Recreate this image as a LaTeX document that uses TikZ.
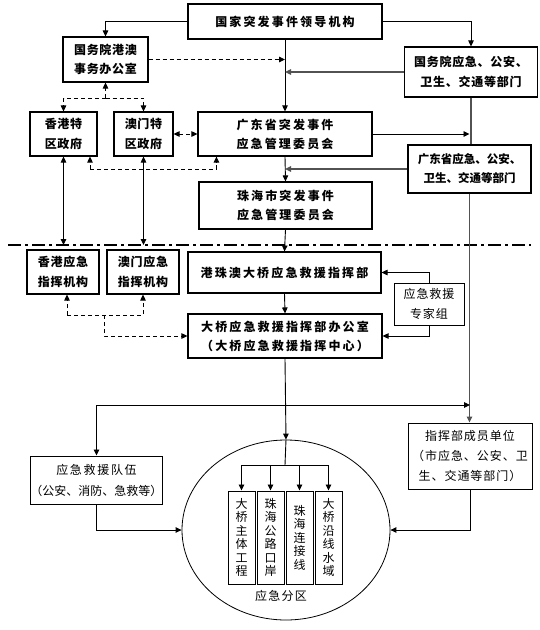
\documentclass[tikz,border=0pt]{standalone}
\usepackage{fontspec}
\setmainfont{Noto Sans CJK SC}
\usetikzlibrary{arrows.meta,shapes.geometric}
\tikzset{
  bx/.style={draw, line width=1.1pt, inner sep=0pt, align=center,
    font={\bfseries\fontsize{12}{19}\selectfont\addfontfeature{LetterSpace=18}}},
  bxn/.style={draw, line width=1.1pt, inner sep=0pt, align=center,
    font={\bfseries\fontsize{12}{19.5}\selectfont\addfontfeature{LetterSpace=6}}},
  rx/.style={draw, line width=1pt, inner sep=0pt, align=center,
    font={\fontsize{12}{20}\selectfont\addfontfeature{LetterSpace=8}}},
  vx/.style={draw, line width=1pt, inner sep=0pt, align=center,
    minimum width=27pt, minimum height=93pt,
    font={\fontsize{12}{13.5}\selectfont}},
  ln/.style={line width=0.9pt},
  gln/.style={line width=1.4pt, draw=black!68},
  arr/.style={-{Triangle[length=6pt,width=5.5pt]}},
  arrb/.style={{Triangle[length=6pt,width=5.5pt]}-{Triangle[length=6pt,width=5.5pt]}},
  dsh/.style={dash pattern=on 4pt off 3pt},
  dashdotline/.style={line width=1.6pt, dash pattern=on 13pt off 4pt on 3pt off 4pt},
}
\begin{document}
\begin{tikzpicture}[x=1pt,y=-1pt]
\useasboundingbox (0,0) rectangle (539,630);
% boxes
\node[bx, minimum width=194pt, minimum height=35pt] (top) at (285,21.5) {国家突发事件领导机构};
\node[bxn, minimum width=85pt, minimum height=45pt] (hmo) at (105.5,59.5) {国务院港澳\\事务办公室};
\node[bxn, minimum width=133pt, minimum height=50pt] (gwy) at (471,72) {国务院应急、公安、\\卫生、交通等部门};
\node[bxn, minimum width=67pt, minimum height=44pt] (hk) at (63.5,134) {香港特\\区政府};
\node[bxn, minimum width=59pt, minimum height=44pt] (mo) at (143.5,134) {澳门特\\区政府};
\node[bx, minimum width=174pt, minimum height=44pt] (gd) at (285,134) {广东省突发事件\\应急管理委员会};
\node[draw, line width=1.1pt, inner sep=0pt, align=center, minimum width=123pt, minimum height=48pt,
  font={\bfseries\fontsize{11.5}{19}\selectfont}] (gdd) at (469.5,169) {广东省应急、公安、\\卫生、交通等部门};
\node[bx, minimum width=173pt, minimum height=47pt] (zh) at (285.5,205.5) {珠海市突发事件\\应急管理委员会};
\node[bxn, minimum width=72pt, minimum height=44pt] (hke) at (63,272) {香港应急\\指挥机构};
\node[bxn, minimum width=72pt, minimum height=44pt] (moe) at (143,272) {澳门应急\\指挥机构};
\node[bx, minimum width=193pt, minimum height=41pt] (hq) at (284.5,272.5) {港珠澳大桥应急救援指挥部};
\node[bx, minimum width=194pt, minimum height=44pt] (off) at (285,336) {大桥应急救援指挥部办公室\\（大桥应急救援指挥中心）};
\node[rx, minimum width=70pt, minimum height=42pt] (exp) at (429,304) {应急救援\\专家组};
\node[draw, line width=1pt, inner sep=0pt, align=center, minimum width=129pt, minimum height=48pt,
  font={\fontsize{12}{21}\selectfont}] (team) at (96.5,480) {\addfontfeature{LetterSpace=14}应急救援队伍\\（公安、消防、急救等）};
\node[rx, minimum width=124pt, minimum height=66pt] (mem) at (470,456) {指挥部成员单位\\（市应急、公安、卫\\生、交通等部门）};
\node[draw, ellipse, line width=0.8pt, inner sep=0pt, minimum width=208pt, minimum height=180pt] (el) at (286,530) {};
\node[vx] (z1) at (241.5,537.5) {大\\桥\\主\\体\\工\\程};
\node[vx] (z2) at (270.5,537.5) {珠\\海\\公\\路\\口\\岸};
\node[vx] (z3) at (299.5,537.5) {珠\\海\\连\\接\\线};
\node[vx] (z4) at (328.5,537.5) {大\\桥\\沿\\线\\水\\域};
\node[font={\fontsize{12}{14}\selectfont\addfontfeature{LetterSpace=10}}] (lbl) at (281,596) {应急分区};
% coordinates
\coordinate (h1) at (105.5,98);
\coordinate (c1) at (90,169);
\coordinate (e1) at (67,315);
\coordinate (e2) at (104,315);
\coordinate (j) at (285,405);
\coordinate (s) at (285,465);
\coordinate (dl) at (8,245);
\coordinate (dr) at (531,245);
% dash-dot separator
\draw[dashdotline] (dl) -- (dr);
% top connectors
\draw[ln,arr] (top.west) -| (hmo.north);
\draw[ln,arr] (top.east) -| (gwy.north);
\draw[ln,arr] (top.south) -- (gd.north);
\draw[ln,dsh,arr] (hmo.east) -- (hmo.east -| top.south);
\draw[gln,arr] (gwy.west) -- (gwy.west -| top.south);
\draw[gln] (gwy.south) -- (gwy.south |- gdd.north);
\draw[ln,arr] (gd.east) -- (gd.east -| gdd.north);
\draw[gln,arr] (gdd.west) -- (gdd.west -| gd.south);
\draw[ln,arr] (gd.south) -- (zh.north);
\draw[ln,arr] (zh.south) -- (hq.north);
\draw[gln,arr] (gdd.south) -- (gdd.south |- mem.north);
% HK / Macau
\draw[ln,dsh,arr] (h1) -- (hmo.south);
\draw[ln,dsh,arr] (h1) -| (hk.north);
\draw[ln,dsh,arr] (h1) -| (mo.north);
\draw[ln,dsh,arrb] (mo.east) -- (gd.west);
\draw[ln,arrb] (hk.south) -- (hk.south |- dl);
\draw[ln,arrb] (mo.south) -- (mo.south |- dl);
\draw[ln,dsh,arr] (c1) -- (c1 |- hk.south);
\draw[ln,dsh,arr] (c1) -| ([xshift=19pt]gd.south west);
% lower
\draw[ln,arr] (hq.south) -- (off.north);
\draw[ln,dsh,arr] (e1) -- (e1 |- hke.south);
\draw[ln,dsh,arr] (e1) -| (moe.south);
\draw[ln,dsh,arr] (e2) |- (off.west);
\draw[ln,arr] (exp.north) |- (hq.east);
\draw[ln,arr] (exp.south) |- (off.east);
\draw[ln,arr] (off.south) -- (el.north);
\draw[ln,arr] (j) -| (team.north);
\draw[ln,arr] (j) -- (j -| mem.north);
\draw[ln,arr] (team.south) |- (el.west);
\draw[ln,arr] (mem.south) |- (el.east);
% inside ellipse
\draw[ln] (el.north) -- (s);
\draw[ln,arr] (s) -| (z1.north);
\draw[ln,arr] (s) -| (z2.north);
\draw[ln,arr] (s) -| (z3.north);
\draw[ln,arr] (s) -| (z4.north);
\end{tikzpicture}
\end{document}
